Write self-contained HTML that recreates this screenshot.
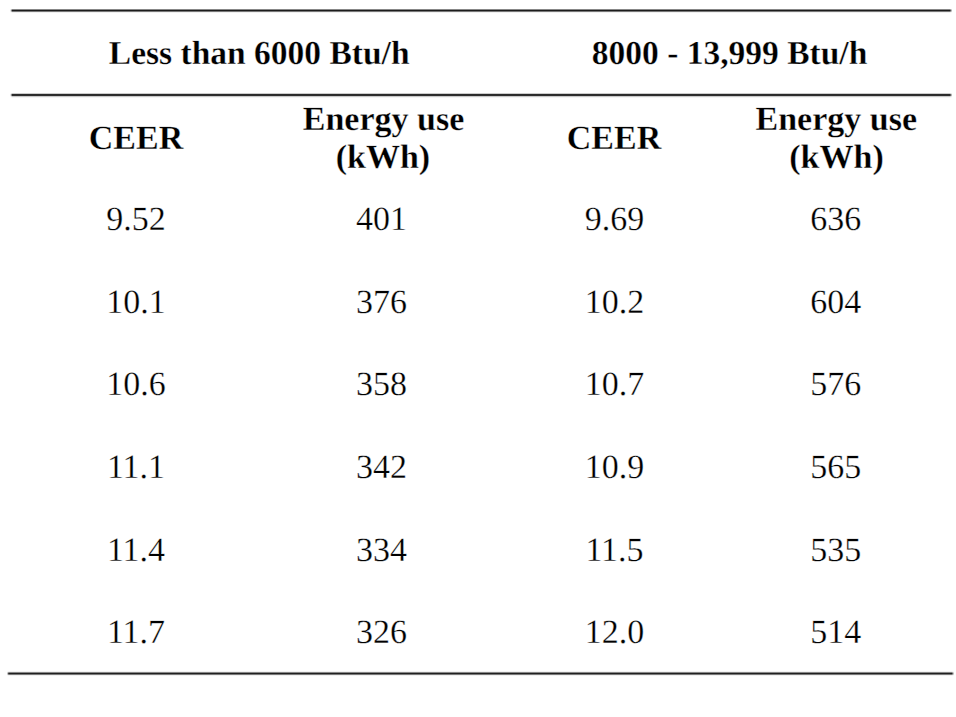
<!DOCTYPE html>
<html><head><meta charset="utf-8"><style>
html,body{margin:0;padding:0;background:#fff;}
body{width:956px;height:717px;position:relative;overflow:hidden;font-family:"Liberation Serif",serif;color:#000;}
.t{position:absolute;width:500px;text-align:center;font-size:34px;line-height:34px;white-space:nowrap;text-rendering:geometricPrecision;-webkit-text-stroke:0.3px #fff;transform-origin:50% 27.5px;}
.b{font-weight:bold;font-size:33.5px;}
.ln{position:absolute;height:1px;}
</style></head><body>
<div class="ln" style="left:12px;top:9px;width:938px;background:rgba(0,0,0,0.470)"></div>
<div class="ln" style="left:11px;top:9px;width:1px;background:rgba(0,0,0,0.259)"></div>
<div class="ln" style="left:10px;top:9px;width:1px;background:rgba(0,0,0,0.056)"></div>
<div class="ln" style="left:950px;top:9px;width:1px;background:rgba(0,0,0,0.352)"></div>
<div class="ln" style="left:951px;top:9px;width:1px;background:rgba(0,0,0,0.164)"></div>
<div class="ln" style="left:12px;top:10px;width:938px;background:rgba(0,0,0,0.890)"></div>
<div class="ln" style="left:11px;top:10px;width:1px;background:rgba(0,0,0,0.490)"></div>
<div class="ln" style="left:10px;top:10px;width:1px;background:rgba(0,0,0,0.107)"></div>
<div class="ln" style="left:950px;top:10px;width:1px;background:rgba(0,0,0,0.667)"></div>
<div class="ln" style="left:951px;top:10px;width:1px;background:rgba(0,0,0,0.311)"></div>
<div class="ln" style="left:12px;top:11px;width:938px;background:rgba(0,0,0,0.530)"></div>
<div class="ln" style="left:11px;top:11px;width:1px;background:rgba(0,0,0,0.292)"></div>
<div class="ln" style="left:10px;top:11px;width:1px;background:rgba(0,0,0,0.064)"></div>
<div class="ln" style="left:950px;top:11px;width:1px;background:rgba(0,0,0,0.398)"></div>
<div class="ln" style="left:951px;top:11px;width:1px;background:rgba(0,0,0,0.185)"></div>
<div class="ln" style="left:12px;top:12px;width:938px;background:rgba(0,0,0,0.060)"></div>
<div class="ln" style="left:11px;top:12px;width:1px;background:rgba(0,0,0,0.033)"></div>
<div class="ln" style="left:10px;top:12px;width:1px;background:rgba(0,0,0,0.007)"></div>
<div class="ln" style="left:950px;top:12px;width:1px;background:rgba(0,0,0,0.045)"></div>
<div class="ln" style="left:951px;top:12px;width:1px;background:rgba(0,0,0,0.021)"></div>
<div class="ln" style="left:12px;top:93px;width:938px;background:rgba(0,0,0,0.200)"></div>
<div class="ln" style="left:11px;top:93px;width:1px;background:rgba(0,0,0,0.110)"></div>
<div class="ln" style="left:10px;top:93px;width:1px;background:rgba(0,0,0,0.024)"></div>
<div class="ln" style="left:950px;top:93px;width:1px;background:rgba(0,0,0,0.150)"></div>
<div class="ln" style="left:951px;top:93px;width:1px;background:rgba(0,0,0,0.070)"></div>
<div class="ln" style="left:12px;top:94px;width:938px;background:rgba(0,0,0,0.835)"></div>
<div class="ln" style="left:11px;top:94px;width:1px;background:rgba(0,0,0,0.459)"></div>
<div class="ln" style="left:10px;top:94px;width:1px;background:rgba(0,0,0,0.100)"></div>
<div class="ln" style="left:950px;top:94px;width:1px;background:rgba(0,0,0,0.626)"></div>
<div class="ln" style="left:951px;top:94px;width:1px;background:rgba(0,0,0,0.292)"></div>
<div class="ln" style="left:12px;top:95px;width:938px;background:rgba(0,0,0,0.820)"></div>
<div class="ln" style="left:11px;top:95px;width:1px;background:rgba(0,0,0,0.451)"></div>
<div class="ln" style="left:10px;top:95px;width:1px;background:rgba(0,0,0,0.098)"></div>
<div class="ln" style="left:950px;top:95px;width:1px;background:rgba(0,0,0,0.615)"></div>
<div class="ln" style="left:951px;top:95px;width:1px;background:rgba(0,0,0,0.287)"></div>
<div class="ln" style="left:12px;top:96px;width:938px;background:rgba(0,0,0,0.215)"></div>
<div class="ln" style="left:11px;top:96px;width:1px;background:rgba(0,0,0,0.118)"></div>
<div class="ln" style="left:10px;top:96px;width:1px;background:rgba(0,0,0,0.026)"></div>
<div class="ln" style="left:950px;top:96px;width:1px;background:rgba(0,0,0,0.161)"></div>
<div class="ln" style="left:951px;top:96px;width:1px;background:rgba(0,0,0,0.075)"></div>
<div class="ln" style="left:12px;top:97px;width:938px;background:rgba(0,0,0,0.040)"></div>
<div class="ln" style="left:11px;top:97px;width:1px;background:rgba(0,0,0,0.022)"></div>
<div class="ln" style="left:10px;top:97px;width:1px;background:rgba(0,0,0,0.005)"></div>
<div class="ln" style="left:950px;top:97px;width:1px;background:rgba(0,0,0,0.030)"></div>
<div class="ln" style="left:951px;top:97px;width:1px;background:rgba(0,0,0,0.014)"></div>
<div class="ln" style="left:9px;top:671px;width:943px;background:rgba(0,0,0,0.050)"></div>
<div class="ln" style="left:8px;top:671px;width:1px;background:rgba(0,0,0,0.043)"></div>
<div class="ln" style="left:7px;top:671px;width:1px;background:rgba(0,0,0,0.015)"></div>
<div class="ln" style="left:952px;top:671px;width:1px;background:rgba(0,0,0,0.035)"></div>
<div class="ln" style="left:953px;top:671px;width:1px;background:rgba(0,0,0,0.015)"></div>
<div class="ln" style="left:9px;top:672px;width:943px;background:rgba(0,0,0,0.470)"></div>
<div class="ln" style="left:8px;top:672px;width:1px;background:rgba(0,0,0,0.399)"></div>
<div class="ln" style="left:7px;top:672px;width:1px;background:rgba(0,0,0,0.141)"></div>
<div class="ln" style="left:952px;top:672px;width:1px;background:rgba(0,0,0,0.329)"></div>
<div class="ln" style="left:953px;top:672px;width:1px;background:rgba(0,0,0,0.141)"></div>
<div class="ln" style="left:9px;top:673px;width:943px;background:rgba(0,0,0,0.875)"></div>
<div class="ln" style="left:8px;top:673px;width:1px;background:rgba(0,0,0,0.744)"></div>
<div class="ln" style="left:7px;top:673px;width:1px;background:rgba(0,0,0,0.263)"></div>
<div class="ln" style="left:952px;top:673px;width:1px;background:rgba(0,0,0,0.612)"></div>
<div class="ln" style="left:953px;top:673px;width:1px;background:rgba(0,0,0,0.263)"></div>
<div class="ln" style="left:9px;top:674px;width:943px;background:rgba(0,0,0,0.530)"></div>
<div class="ln" style="left:8px;top:674px;width:1px;background:rgba(0,0,0,0.451)"></div>
<div class="ln" style="left:7px;top:674px;width:1px;background:rgba(0,0,0,0.159)"></div>
<div class="ln" style="left:952px;top:674px;width:1px;background:rgba(0,0,0,0.371)"></div>
<div class="ln" style="left:953px;top:674px;width:1px;background:rgba(0,0,0,0.159)"></div>
<div class="ln" style="left:9px;top:675px;width:943px;background:rgba(0,0,0,0.060)"></div>
<div class="ln" style="left:8px;top:675px;width:1px;background:rgba(0,0,0,0.051)"></div>
<div class="ln" style="left:7px;top:675px;width:1px;background:rgba(0,0,0,0.018)"></div>
<div class="ln" style="left:952px;top:675px;width:1px;background:rgba(0,0,0,0.042)"></div>
<div class="ln" style="left:953px;top:675px;width:1px;background:rgba(0,0,0,0.018)"></div>
<div class="t b" style="left:9.20px;top:37.20px">Less than 6000 Btu/h</div>
<div class="t b" style="left:479.55px;top:37.20px">8000 - 13,999 Btu/h</div>
<div class="t b" style="left:-114.00px;top:121.50px;font-size:34px">CEER</div>
<div class="t b" style="left:364.00px;top:121.50px;font-size:34px">CEER</div>
<div class="t b" style="left:133.50px;top:102.50px;font-size:34px">Energy use</div>
<div class="t b" style="left:132.90px;top:141.00px;font-size:34px">(kWh)</div>
<div class="t b" style="left:586.25px;top:102.50px;font-size:34px">Energy use</div>
<div class="t b" style="left:586.50px;top:141.00px;font-size:34px">(kWh)</div>
<div class="t" style="left:-114.00px;top:202.80px">9.52</div>
<div class="t" style="left:131.50px;top:202.80px">401</div>
<div class="t" style="left:364.50px;top:202.80px">9.69</div>
<div class="t" style="left:585.80px;top:202.80px">636</div>
<div class="t" style="left:-114.00px;top:285.80px">10.1</div>
<div class="t" style="left:131.50px;top:285.80px">376</div>
<div class="t" style="left:364.50px;top:285.80px">10.2</div>
<div class="t" style="left:585.80px;top:285.80px">604</div>
<div class="t" style="left:-114.00px;top:368.10px">10.6</div>
<div class="t" style="left:131.50px;top:368.10px">358</div>
<div class="t" style="left:364.50px;top:368.10px">10.7</div>
<div class="t" style="left:585.80px;top:368.10px">576</div>
<div class="t" style="left:-114.00px;top:450.70px">11.1</div>
<div class="t" style="left:131.50px;top:450.70px">342</div>
<div class="t" style="left:364.50px;top:450.70px">10.9</div>
<div class="t" style="left:585.80px;top:450.70px">565</div>
<div class="t" style="left:-114.00px;top:533.80px">11.4</div>
<div class="t" style="left:131.50px;top:533.80px">334</div>
<div class="t" style="left:364.50px;top:533.80px">11.5</div>
<div class="t" style="left:585.80px;top:533.80px">535</div>
<div class="t" style="left:-114.00px;top:615.90px">11.7</div>
<div class="t" style="left:131.50px;top:615.90px">326</div>
<div class="t" style="left:364.50px;top:615.90px">12.0</div>
<div class="t" style="left:585.80px;top:615.90px">514</div>
</body></html>
